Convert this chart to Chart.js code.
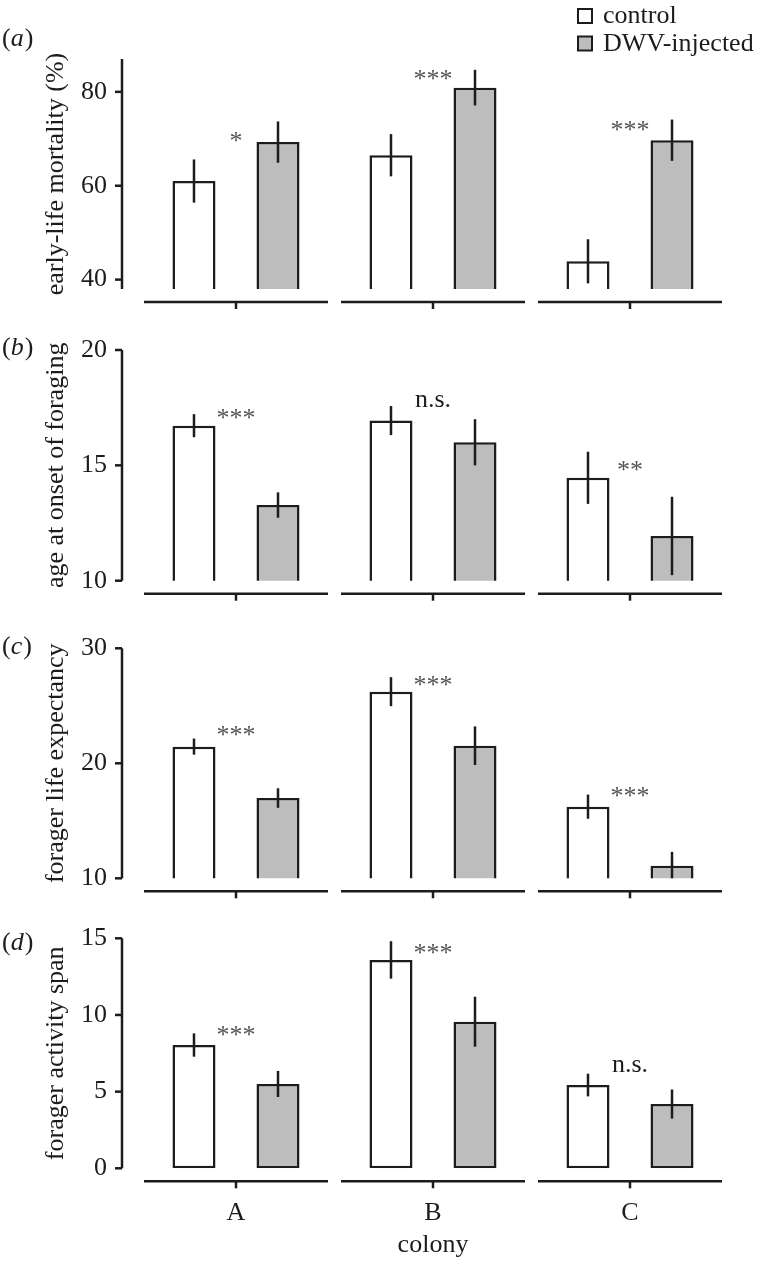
<!DOCTYPE html>
<html>
<head>
<meta charset="utf-8">
<script src="https://cdn.jsdelivr.net/npm/chart.js@4.4.1/dist/chart.umd.min.js"></script>
<style>
html, body { margin: 0; padding: 0; background: #ffffff; }
#wrap { position: relative; width: 760px; height: 1263px; overflow: hidden; }
canvas { position: absolute; left: 0; display: block; }
</style>
</head>
<body>
<div id="wrap">
  <canvas id="cA" width="760" height="320" style="top:0px"></canvas>
  <canvas id="cB" width="760" height="290" style="top:320px"></canvas>
  <canvas id="cC" width="760" height="300" style="top:610px"></canvas>
  <canvas id="cD" width="760" height="353" style="top:910px"></canvas>
</div>
<script>
// ---------------- data ----------------
const colonies = ['A', 'B', 'C'];
const seriesNames = ['control', 'DWV-injected'];
const xTitle = 'colony';

// (a) early-life mortality (%)
const mortalityControl    = [61.0, 66.5, 43.9];
const mortalityControlErr = [4.6, 4.5, 4.7];
const mortalityDWV        = [69.3, 80.9, 69.7];
const mortalityDWVErr     = [4.4, 3.8, 4.4];
const mortalitySig        = ['*', '***', '***'];
const mortalitySigY       = [67.9, 81.1, 70.1];
const mortalityTicks      = [40, 60, 80];

// (b) age at onset of foraging
const onsetControl    = [16.72, 16.94, 14.46];
const onsetControlErr = [0.50, 0.63, 1.13];
const onsetDWV        = [13.28, 16.00, 11.94];
const onsetDWVErr     = [0.55, 1.00, 1.70];
const onsetSig        = ['***', 'n.s.', '**'];
const onsetSigY       = [16.72, 17.52, 14.43];
const onsetTicks      = [10, 15, 20];

// (c) forager life expectancy
const lifeControl    = [21.45, 26.23, 16.23];
const lifeControlErr = [0.70, 1.26, 1.05];
const lifeDWV        = [16.98, 21.53, 11.10];
const lifeDWVErr     = [0.85, 1.68, 1.20];
const lifeSig        = ['***', '***', '***'];
const lifeSigY       = [21.79, 26.14, 16.43];
const lifeTicks      = [10, 20, 30];

// (d) forager activity span
const spanControl    = [8.04, 13.59, 5.43];
const spanControlErr = [0.76, 1.22, 0.74];
const spanDWV        = [5.50, 9.56, 4.19];
const spanDWVErr     = [0.85, 1.63, 0.95];
const spanSig        = ['***', '***', 'n.s.'];
const spanSigY       = [8.19, 13.52, 6.26];
const spanTicks      = [0, 5, 10, 15];

// ---------------- style ----------------
const INK = '#1c1c1c';
const GREY = '#bdbdbd';
const SERIF = "'Liberation Serif', 'Times New Roman', 'DejaVu Serif', serif";
const FS = 26;

const decor = {
  id: 'decor',
  afterDatasetsDraw(chart, args, o) {
    const ctx = chart.ctx;
    const xs = chart.scales.x, ys = chart.scales.y, ca = chart.chartArea;
    ctx.save();
    ctx.strokeStyle = INK;
    ctx.fillStyle = INK;
    ctx.lineWidth = 2.5;
    ctx.lineCap = 'butt';
    const line = (x1, y1, x2, y2) => { ctx.beginPath(); ctx.moveTo(x1, y1); ctx.lineTo(x2, y2); ctx.stroke(); };

    // error bars
    chart.data.datasets.forEach((ds, di) => {
      const meta = chart.getDatasetMeta(di);
      meta.data.forEach((bar, i) => {
        const v = ds.data[i], e = ds.err[i];
        const top = ys.getPixelForValue(v + e);
        const bot = Math.min(ys.getPixelForValue(v - e), ca.bottom);
        line(bar.x, top, bar.x, bot);
      });
    });

    // detached y axis
    const ax = ca.left - 15.5;
    line(ax, ca.top, ax, ca.bottom);
    ys.ticks.forEach(t => {
      const py = ys.getPixelForValue(t.value);
      line(ax - 7, py, ax, py);
    });

    // broken x axis: one segment per colony
    const sy = ca.bottom + 13;
    const step = xs.getPixelForValue(1) - xs.getPixelForValue(0);
    const half = step / 2 - 6.5;
    chart.data.labels.forEach((l, i) => {
      const cx = xs.getPixelForValue(i);
      line(cx - half, sy, cx + half, sy);
      line(cx, sy, cx, sy + 7);
    });

    // significance labels
    ctx.font = FS + 'px ' + SERIF;
    ctx.textAlign = 'center';
    ctx.textBaseline = 'alphabetic';
    o.sig.forEach((s, i) => {
      ctx.fillStyle = s.indexOf('*') >= 0 ? '#555555' : INK;
      ctx.fillText(s, xs.getPixelForValue(i), ys.getPixelForValue(o.sigY[i]));
    });
    ctx.fillStyle = INK;

    // panel letter "(x)" with italic letter
    ctx.textAlign = 'left';
    ctx.textBaseline = 'middle';
    let px = 2;
    const up = FS + 'px ' + SERIF, it = 'italic ' + FS + 'px ' + SERIF;
    ctx.font = up; ctx.fillText('(', px, o.letterY); px += ctx.measureText('(').width;
    ctx.font = it; ctx.fillText(o.letter, px, o.letterY); px += ctx.measureText(o.letter).width + 1;
    ctx.font = up; ctx.fillText(')', px, o.letterY);

    // legend
    if (o.legend) {
      ctx.font = up;
      ctx.textBaseline = 'alphabetic';
      ctx.lineWidth = 2;
      const fills = ['#ffffff', GREY];
      const rows = [[8, 22.5], [35.5, 51]];
      seriesNames.forEach((n, k) => {
        ctx.fillStyle = fills[k];
        ctx.fillRect(578, rows[k][0] + 1, 14, 14);
        ctx.strokeStyle = INK;
        ctx.strokeRect(578, rows[k][0] + 1, 14, 14);
        ctx.fillStyle = INK;
        ctx.fillText(n, 603, rows[k][1]);
      });
    }
    ctx.restore();
  }
};

function makePanel(id, cfg) {
  const barCommon = {
    borderColor: INK, borderWidth: 2.5, borderSkipped: false,
    categoryPercentage: 0.853, barPercentage: 0.512
  };
  return new Chart(document.getElementById(id), {
    type: 'bar',
    data: {
      labels: colonies,
      datasets: [
        Object.assign({ label: seriesNames[0], data: cfg.ctrl, err: cfg.ctrlErr, backgroundColor: '#ffffff' }, barCommon),
        Object.assign({ label: seriesNames[1], data: cfg.dwv, err: cfg.dwvErr, backgroundColor: GREY }, barCommon)
      ]
    },
    options: {
      responsive: false,
      devicePixelRatio: 1,
      animation: false,
      events: [],
      layout: { padding: { left: 0, right: 31.5, top: cfg.padTop, bottom: cfg.padBottom } },
      scales: {
        x: {
          display: cfg.showX,
          grid: { display: false, drawTicks: false },
          border: { display: false },
          afterFit: s => {
            s.paddingLeft = 0; s.paddingRight = 0;
            s.height = cfg.showX ? 94.7 : 0;
          },
          ticks: { color: INK, padding: 31.7, font: { family: SERIF, size: FS, lineHeight: 1.0 } },
          title: { display: true, text: xTitle, color: INK, padding: { top: 0, bottom: 5 },
                   font: { family: SERIF, size: FS, lineHeight: 1.0 } }
        },
        y: {
          min: cfg.min, max: cfg.max,
          grid: { display: false, drawTicks: false },
          border: { display: false },
          afterBuildTicks: s => { s.ticks = cfg.ticks.map(v => ({ value: v })); },
          afterFit: s => { s.width = 137.5; s.paddingTop = 0; s.paddingBottom = 0; },
          ticks: { color: INK, padding: 30.5, font: { family: SERIF, size: FS, lineHeight: 1.2 } },
          title: { display: true, text: cfg.title, color: INK, padding: { top: 41, bottom: 0 },
                   font: { family: SERIF, size: FS, lineHeight: 1.2 } }
        }
      },
      plugins: {
        legend: { display: false },
        tooltip: { enabled: false },
        decor: { sig: cfg.sig, sigY: cfg.sigY, letter: cfg.letter, letterY: cfg.letterY, legend: !!cfg.legend }
      }
    },
    plugins: [decor]
  });
}

makePanel('cA', { title: 'early-life mortality (%)', letter: 'a', letterY: 39, legend: true,
  ctrl: mortalityControl, ctrlErr: mortalityControlErr, dwv: mortalityDWV, dwvErr: mortalityDWVErr,
  sig: mortalitySig, sigY: mortalitySigY, ticks: mortalityTicks, min: 38, max: 87,
  padTop: 59, padBottom: 31, showX: false });
makePanel('cB', { title: 'age at onset of foraging', letter: 'b', letterY: 28.5,
  ctrl: onsetControl, ctrlErr: onsetControlErr, dwv: onsetDWV, dwvErr: onsetDWVErr,
  sig: onsetSig, sigY: onsetSigY, ticks: onsetTicks, min: 10, max: 20,
  padTop: 30, padBottom: 29.3, showX: false });
makePanel('cC', { title: 'forager life expectancy', letter: 'c', letterY: 37,
  ctrl: lifeControl, ctrlErr: lifeControlErr, dwv: lifeDWV, dwvErr: lifeDWVErr,
  sig: lifeSig, sigY: lifeSigY, ticks: lifeTicks, min: 10, max: 30,
  padTop: 38.3, padBottom: 31.7, showX: false });
makePanel('cD', { title: 'forager activity span', letter: 'd', letterY: 33,
  ctrl: spanControl, ctrlErr: spanControlErr, dwv: spanDWV, dwvErr: spanDWVErr,
  sig: spanSig, sigY: spanSigY, ticks: spanTicks, min: 0, max: 15,
  padTop: 28.3, padBottom: 0, showX: true });
</script>
</body>
</html>
